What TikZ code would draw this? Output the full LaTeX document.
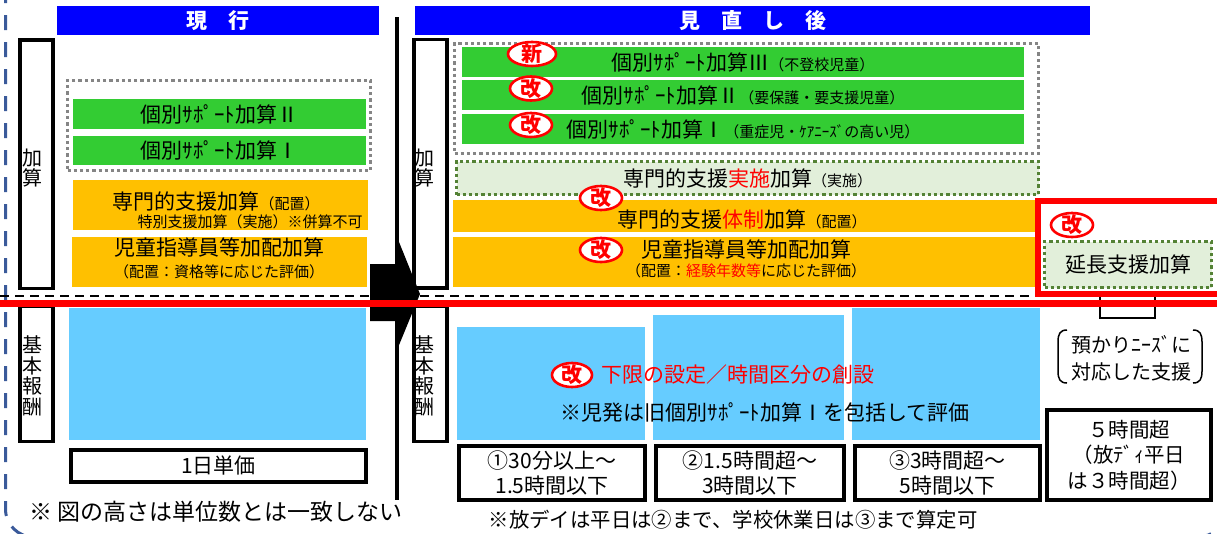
\documentclass[tikz,border=0pt]{standalone}
\usepackage{fontspec}
\setmainfont{Noto Sans CJK JP}
\usetikzlibrary{shapes.geometric}

\definecolor{hdrblue}{HTML}{0000FF}
\definecolor{supgreen}{HTML}{33CC33}
\definecolor{orangefill}{HTML}{FFC000}
\definecolor{skyfill}{HTML}{66CCFF}
\definecolor{palegreen}{HTML}{E2EFDA}
\definecolor{dotgreen}{HTML}{548235}
\definecolor{dotgray}{HTML}{858585}
\definecolor{framecol}{HTML}{3A5A9A}

\newcommand{\bigjp}{\fontsize{21}{25}\selectfont}
\newcommand{\smalljp}{\fontsize{15}{18}\selectfont}

\begin{document}
\begin{tikzpicture}[x=1pt, y=-1pt,
    header/.style={fill=hdrblue, text=white, font=\bigjp\bfseries, minimum height=29pt, inner sep=0pt},
    sidebox/.style={draw, line width=3.5pt, fill=white, minimum width=33pt, inner sep=0pt},
    sidelbl/.style={font=\fontsize{20}{20.5}\selectfont, align=center, inner sep=0pt},
    greenbar/.style={fill=supgreen, minimum height=30pt, inner sep=0pt, font=\bigjp},
    orangebar/.style={fill=orangefill, inner sep=0pt},
    skybox/.style={fill=skyfill, inner sep=0pt},
    timebox/.style={draw, line width=4.3pt, fill=white, align=center, inner sep=0pt, minimum height=54pt, font=\fontsize{21}{25}\selectfont},
    graydots/.style={draw=dotgray, line width=3.2pt, dash pattern=on 3.2pt off 3pt, inner sep=0pt},
    greendots/.style={draw=dotgreen, line width=3.2pt, dash pattern=on 3.2pt off 3pt, fill=palegreen, inner sep=0pt},
    badge/.style={ellipse, draw=red, line width=2.6pt, fill=white, text=red, font=\fontsize{21}{21}\selectfont\bfseries, inner sep=-3pt, minimum width=42pt, minimum height=24pt},
    txt/.style={inner sep=0pt}]
    \useasboundingbox (0,0) rectangle (1217,533);

    % Outer frame
    \begin{scope}
        \clip (0,0) rectangle (1217,533);
        \draw[framecol, line width=3pt, dash pattern=on 15pt off 12pt, rounded corners=28pt] (5.5,-40) rectangle (1226,537);
    \end{scope}

    % Headers
    \node[header, minimum width=322pt] (hdrold) at (218,20.5) {現　行};
    \node[header, minimum width=675pt] (hdrnew) at (752.5,20.5) {見　直　し　後};

    % Divider and level line
    \draw[line width=3.5pt] (397,17) -- (397,500);
    \draw[line width=2.5pt, dash pattern=on 9pt off 6pt] (0,296) -- (1035,296);

    % Side boxes
    \node[sidebox, minimum height=248.5pt] (addold) at (36.5,164) {};
    \node[sidelbl] (addoldlbl) at (33,168) {加\\算};
    \node[sidebox, minimum height=135.5pt] (baseold) at (36.5,373.5) {};
    \node[sidelbl] (baseoldlbl) at (33,376) {基\\本\\報\\酬};
    \node[sidebox, minimum height=248.5pt] (addnew) at (430.5,163.5) {};
    \node[sidelbl] (addnewlbl) at (424,168) {加\\算};
    \node[sidebox, minimum height=135.5pt] (basenew) at (430.5,373.5) {};
    \node[sidelbl] (basenewlbl) at (424,376) {基\\本\\報\\酬};

    % Current: additions
    \node[graydots, minimum width=303pt, minimum height=90pt] (oldsup) at (219,125.5) {};
    \node[greenbar, minimum width=293pt] (oldsupII) at (219.5,114) {個別ｻﾎﾟｰﾄ加算Ⅱ};
    \node[greenbar, minimum width=293pt, minimum height=29pt] (oldsupI) at (219.5,150.5) {個別ｻﾎﾟｰﾄ加算Ⅰ};
    \node[orangebar, minimum width=295pt, minimum height=50pt] (oldspec) at (220.5,205) {};
    \node[txt] (oldspecA) at (216,201) {\bigjp 専門的支援加算{\smalljp（配置）}};
    \node[txt] (oldspecB) at (250,222) {\smalljp 特別支援加算（実施）※併算不可};
    \node[orangebar, minimum width=295pt, minimum height=50pt] (oldstaff) at (219.5,262) {};
    \node[txt] (oldstaffA) at (219,248) {\bigjp 児童指導員等加配加算};
    \node[txt] (oldstaffB) at (219,272) {\smalljp（配置：資格等に応じた評価）};

    % Current: base
    \node[skybox, minimum width=297pt, minimum height=132pt] (oldbase) at (217.5,374) {};
    \node[timebox, line width=4pt, minimum width=295pt, minimum height=32pt] (daily) at (218.5,466) {1日単価};
    \node[txt, font=\fontsize{23}{26}\selectfont] (oldnote) at (216,512) {※ 図の高さは単位数とは一致しない};

    % Revised: additions
    \node[graydots, minimum width=584pt, minimum height=110pt] (newsup) at (746.5,98.5) {};
    \node[greenbar, minimum width=562pt] (newsupIII) at (743,62) {個別ｻﾎﾟｰﾄ加算Ⅲ{\smalljp（不登校児童）}};
    \node[greenbar, minimum width=562pt] (newsupII) at (743,95) {個別ｻﾎﾟｰﾄ加算Ⅱ{\smalljp（要保護・要支援児童）}};
    \node[greenbar, minimum width=562pt] (newsupI) at (743,129) {個別ｻﾎﾟｰﾄ加算Ⅰ{\smalljp（重症児・ｹｱﾆｰｽﾞの高い児）}};
    \node[greendots, minimum width=582pt, minimum height=33pt, font=\bigjp] (newexec) at (747.5,178) {専門的支援{\color{red}実施}加算{\smalljp（実施）}};
    \node[orangebar, minimum width=583pt, minimum height=32pt] (newspec) at (744.5,216) {};
    \node[txt] (newspecA) at (742,219) {\bigjp 専門的支援{\color{red}体制}加算{\smalljp（配置）}};
    \node[orangebar, minimum width=583pt, minimum height=50pt] (newstaff) at (744.5,262) {};
    \node[txt] (newstaffA) at (746,250) {\bigjp 児童指導員等加配加算};
    \node[txt] (newstaffB) at (746,271) {\smalljp（配置：{\color{red}経験年数等}に応じた評価）};

    % Extension
    \node[greendots, minimum width=167pt, minimum height=46pt, font=\bigjp] (extend) at (1128,264.5) {延長支援加算};
    \draw[line width=2.5pt] (1100,297) -- (1100,318) -- (1155,318) -- (1155,297);
    \node[draw=red, line width=6pt, minimum width=192pt, minimum height=93pt, inner sep=0pt] (extframe) at (1134,247.5) {};

    % Revised: base
    \node[skybox, minimum width=188pt, minimum height=113pt] (baseA) at (551,383.5) {};
    \node[skybox, minimum width=191pt, minimum height=125pt] (baseB) at (748.5,377.5) {};
    \node[skybox, minimum width=188pt, minimum height=132pt] (baseC) at (946,374) {};
    \node[txt, text=red, font=\bigjp] (newlimit) at (737.5,375) {下限の設定／時間区分の創設};
    \node[txt, font=\bigjp] (newincl) at (765,412) {※児発は旧個別ｻﾎﾟｰﾄ加算Ⅰを包括して評価};
    \node[timebox, minimum width=186pt] (slotA) at (552,473) {①30分以上～\\1.5時間以下};
    \node[timebox, minimum width=188pt] (slotB) at (750,473) {②1.5時間超～\\3時間以下};
    \node[timebox, minimum width=185pt] (slotC) at (947.5,473) {③3時間超～\\5時間以下};
    \node[timebox, minimum width=164pt, minimum height=90pt, font=\fontsize{20.5}{25.5}\selectfont] (slotD) at (1129,455) {５時間超\\（放ﾃﾞｨ平日\\は３時間超）};
    \node[txt, font=\fontsize{20.4}{24}\selectfont] (newnote) at (733,520) {※放デイは平日は②まで、学校休業日は③まで算定可};

    % Needs
    \node[txt, align=center, font=\fontsize{20}{27}\selectfont] (needs) at (1131,358) {預かりﾆｰｽﾞに\\対応した支援};
    \draw[line width=1.5pt] (1067,330) .. controls (1060,330) and (1058,334) .. (1058,342) -- (1058,371) .. controls (1058,379) and (1060,383) .. (1067,383);
    \draw[line width=1.5pt] (1193,330) .. controls (1200,330) and (1202,334) .. (1202,342) -- (1202,371) .. controls (1202,379) and (1200,383) .. (1193,383);

    % Big arrow and red line
    \fill (370,264) -- (397,264) -- (397,237) -- (420,294) -- (397,350) -- (397,321) -- (370,321) -- cycle;
    \draw[red, line width=7.5pt] (0,303.5) -- (1217,303.5);

    % Badges
    \node[badge, minimum width=48pt] (bnew) at (532,54) {新};
    \node[badge] (bsupII) at (531,88.5) {改};
    \node[badge] (bsupI) at (531,125) {改};
    \node[badge] (bspec) at (601,198) {改};
    \node[badge] (bstaff) at (601,250) {改};
    \node[badge, minimum width=40pt] (blimit) at (572,375) {改};
    \node[badge] (bext) at (1072,225) {改};
\end{tikzpicture}
\end{document}
